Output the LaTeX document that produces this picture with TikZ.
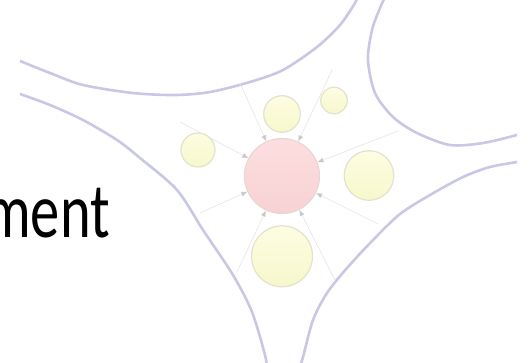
\documentclass[tikz,border=0pt]{standalone}
\usepackage{fontspec}
\setmainfont{Carlito}
\usepackage{graphicx}
\usepackage{xcolor}
\definecolor{colRim}{RGB}{200,200,228}
\definecolor{colHubTop}{RGB}{253,222,222}
\definecolor{colHubBot}{RGB}{247,210,212}
\definecolor{colHubLine}{RGB}{232,214,214}
\definecolor{colSatTop}{RGB}{253,253,226}
\definecolor{colSatBot}{RGB}{247,247,204}
\definecolor{colSatLine}{RGB}{226,226,206}
\definecolor{colFeed}{RGB}{228,228,228}
\definecolor{colTip}{RGB}{200,200,200}
\usetikzlibrary{arrows.meta}
\tikzset{
	rim/.style={draw=colRim, line width=2.6pt, line cap=round},
	hubball/.style={circle, draw=colHubLine, line width=1.2pt, top color=colHubTop, bottom color=colHubBot, inner sep=0pt},
	satball/.style={circle, draw=colSatLine, line width=1.2pt, top color=colSatTop, bottom color=colSatBot, inner sep=0pt},
	feedarr/.style={draw=colFeed, line width=0.6pt, -{Latex[length=6pt, width=5pt, color=colTip]}},
}

\begin{document}
\begin{tikzpicture}[x=1pt, y=-1pt]
		\useasboundingbox (0,0) rectangle (529,362);
		\clip (0,0) rectangle (529,362);

		% Title, cut at the left edge
		\node[anchor=base east, inner sep=0pt, font=\fontsize{78}{82}\selectfont] (title) at (110,237) {\scalebox{0.75}[1]{ment}};

		% Rims
		\begin{scope}
			\clip (20,-5) rectangle (517,370);
			\draw[rim] plot[smooth] coordinates {(10,57) (20,61) (50,73) (83,85) (133,93) (175,95) (210,92) (250,82) (283,70) (317,47) (340,25) (355,3) (358,-5)};
			\draw[rim] plot[smooth] coordinates {(10,91) (20,94) (50,105) (83,120) (117,140) (140,158) (177,190) (203,230) (233,275) (252,312) (265,355) (267,370)};
			\draw[rim] plot[smooth] coordinates {(298,372) (303,357) (313,320) (327,293) (347,268) (373,240) (400,214) (430,195) (463,177) (490,167) (517,162) (527,160)};
			\draw[rim] plot[smooth] coordinates {(386,-5) (380,8) (372,30) (368,60) (375,93) (393,117) (417,133) (450,145) (483,143) (517,135) (527,132)};
		\end{scope}

		% Hub
		\node[hubball, minimum size=75pt] (hub) at (282,176) {};

		% Inflows
		\coordinate (inTL) at (240,83);
		\coordinate (inTR) at (332,70);
		\coordinate (inL) at (180,122);
		\coordinate (inR) at (398,131);
		\coordinate (inLL) at (200,213);
		\coordinate (inLR) at (378,224);
		\coordinate (inBL) at (237,272);
		\coordinate (inBR) at (335,280);
		\foreach \src in {inTL, inTR, inL, inR, inLL, inLR, inBL, inBR}
			\draw[feedarr] (\src) -- (hub);

		% Satellites
		\node[satball, minimum size=36.6pt] (satTop) at (282,114) {};
		\node[satball, minimum size=26.6pt] (satTopR) at (334,100.5) {};
		\node[satball, minimum size=34pt] (satLeft) at (198,150) {};
		\node[satball, minimum size=49.6pt] (satRight) at (369,175.5) {};
		\node[satball, minimum size=61pt] (satBottom) at (282,256.3) {};
	\end{tikzpicture}
\end{document}
